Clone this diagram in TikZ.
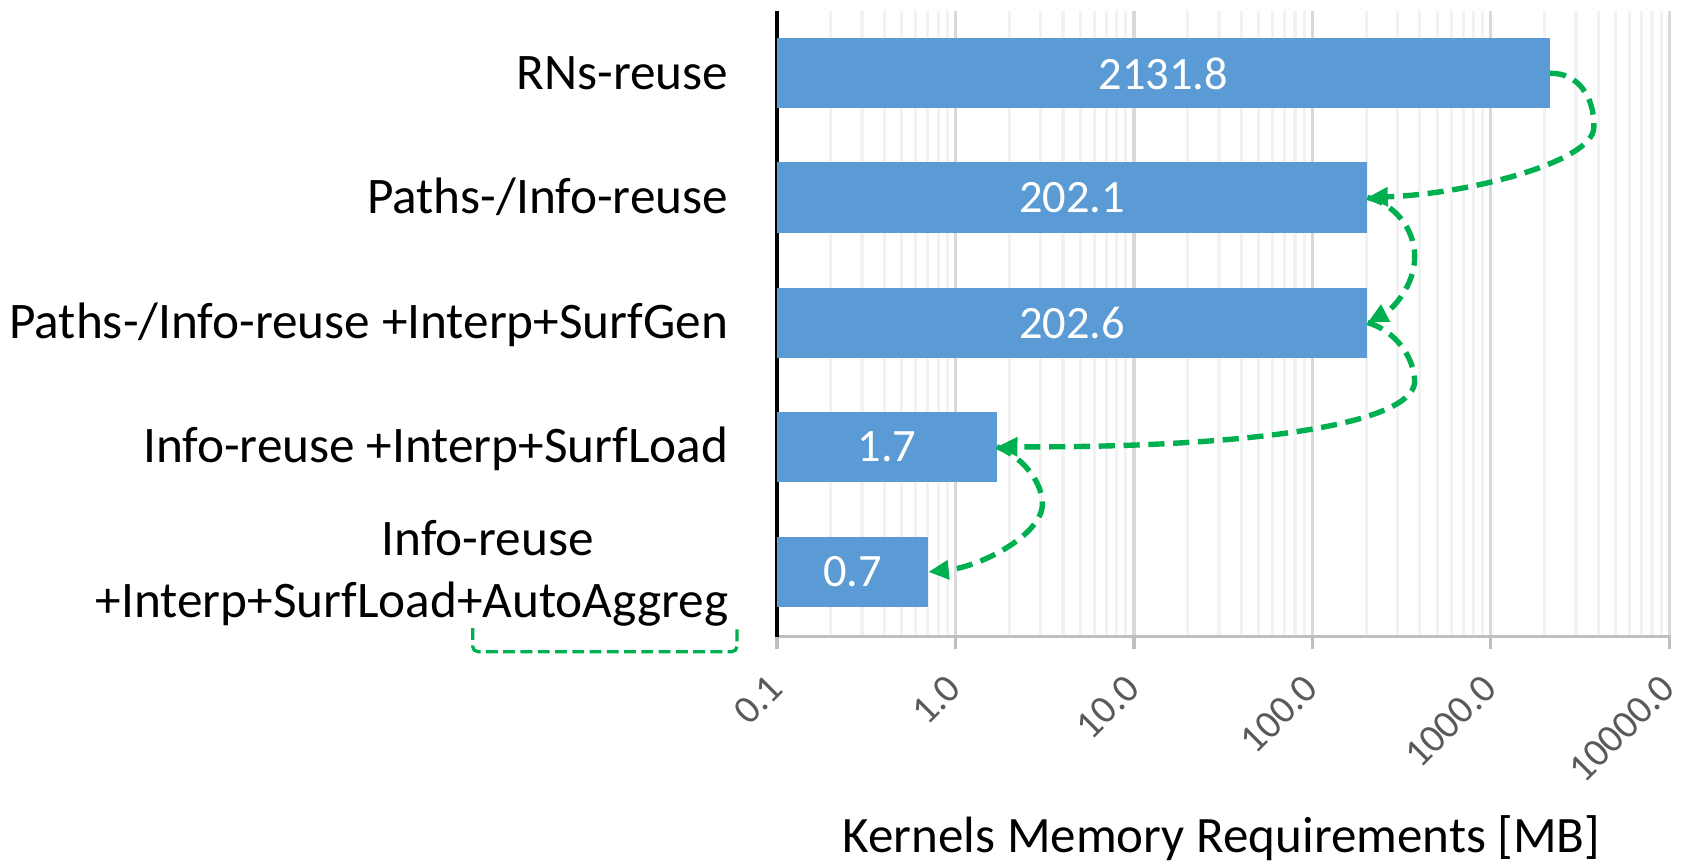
\documentclass[tikz,border=0pt]{standalone}
\usepackage{fontspec}
\setmainfont{Carlito}
\usetikzlibrary{arrows.meta}
\definecolor{barblue}{HTML}{5B9BD5}
\definecolor{flowgreen}{HTML}{00B050}
\definecolor{majorgrid}{HTML}{D9D9D9}
\definecolor{minorgrid}{HTML}{F2F2F2}
\definecolor{axisgray}{HTML}{BFBFBF}
\definecolor{ticktext}{HTML}{595959}

\begin{document}
\begin{tikzpicture}[x=1pt,y=1pt,
  bar/.style={fill=barblue, draw=none, anchor=west, minimum height=65pt,
    inner sep=0pt, text=white, font=\fontsize{43}{51}\selectfont},
  catlabel/.style={anchor=base east, inner sep=0pt, font=\fontsize{47.5}{57}\selectfont},
  ticklabel/.style={anchor=east, rotate=45, inner sep=0pt, text=ticktext,
    font=\fontsize{37}{44}\selectfont},
  flow/.style={draw=flowgreen, line width=5pt, dash pattern=on 15pt off 8pt,
    -{Triangle[length=19pt,width=17pt]}},
  bracket/.style={draw=flowgreen, line width=3pt, dash pattern=on 11pt off 5pt,
    rounded corners=5pt},
]
\useasboundingbox (0,0) rectangle (1568,-803);

% log-scale grid: one decade = 165.4pt, starting at 0.1
\def\dec{165.4}
\foreach \d in {0,...,4}{
  \foreach \k in {2,...,9}{
    \pgfmathsetmacro{\gx}{720+\dec*(\d+ln(\k)/ln(10))}
    \draw[minorgrid, line width=3pt] (\gx,-10) -- (\gx,-590);
  }
}
\foreach \d in {1,...,5}{
  \draw[majorgrid, line width=3pt] (720+\dec*\d,-10) -- (720+\dec*\d,-590);
}

% horizontal axis with ticks
\draw[axisgray, line width=3pt] (720,-590) -- (1548.5,-590);
\foreach \d in {0,...,5}{
  \draw[axisgray, line width=3pt] (720+\dec*\d,-590) -- (720+\dec*\d,-601);
}
% vertical axis
\draw[black, line width=3pt] (720,-10) -- (720,-590);

% tick labels
\foreach \d/\t in {0/0.1,1/1.0,2/10.0,3/100.0,4/1000.0,5/10000.0}{
  \node[ticklabel] (tick\d) at (720+\dec*\d-1,-632) {\t};
}

% bars
\node[bar, minimum width=716.0pt] (b1) at (720,-68)  {2131.8};
\node[bar, minimum width=546.7pt] (b2) at (720,-183) {202.1};
\node[bar, minimum width=546.9pt] (b3) at (720,-299) {202.6};
\node[bar, minimum width=203.5pt] (b4) at (720,-414) {1.7};
\node[bar, minimum width=139.8pt] (b5) at (720,-530) {0.7};

% category labels
\node[catlabel] (c1) at (675,-83)  {RNs-reuse};
\node[catlabel] (c2) at (675,-198) {Paths-/Info-reuse};
\node[catlabel] (c3) at (675,-314) {Paths-/Info-reuse +Interp+SurfGen};
\node[catlabel] (c4) at (675,-429) {Info-reuse +Interp+SurfLoad};
\node[catlabel, anchor=base] (c5a) at (452,-515) {Info-reuse};
\node[catlabel] (c5b) at (675,-572.5) {+Interp+SurfLoad+AutoAggreg};

% axis title
\node[anchor=base, inner sep=0pt, font=\fontsize{47.3}{57}\selectfont] (title)
  at (1132,-790) {Kernels Memory Requirements [MB]};

% dashed bracket under the last label
\coordinate (k1) at (438,-582);
\coordinate (k2) at (438,-604);
\coordinate (k3) at (683,-604);
\coordinate (k4) at (683,-582);
\draw[bracket] (k1) -- (k2) -- (k3) -- (k4);

% turning points of the flow arrows
\coordinate (t1) at (1477,-118);
\coordinate (t2) at (1311,-238);
\coordinate (t3) at (1311,-355);
\coordinate (t4) at (966,-467);

\draw[flow] (b1.east) .. controls (1462,-67) and (1478,-90) .. (t1)
  .. controls (1477,-150) and (1360,-180) .. (b2.east);
\draw[flow] (b2.east) .. controls (1290,-188) and (1311,-210) .. (t2)
  .. controls (1311,-265) and (1290,-287) .. (b3.east);
\draw[flow] (b3.east) .. controls (1292,-306) and (1311,-330) .. (t3)
  .. controls (1305,-395) and (1150,-415) .. (b4.east);
\draw[flow] (b4.east) .. controls (945,-422) and (966,-445) .. (t4)
  .. controls (966,-495) and (910,-525) .. (b5.east);
\end{tikzpicture}
\end{document}
